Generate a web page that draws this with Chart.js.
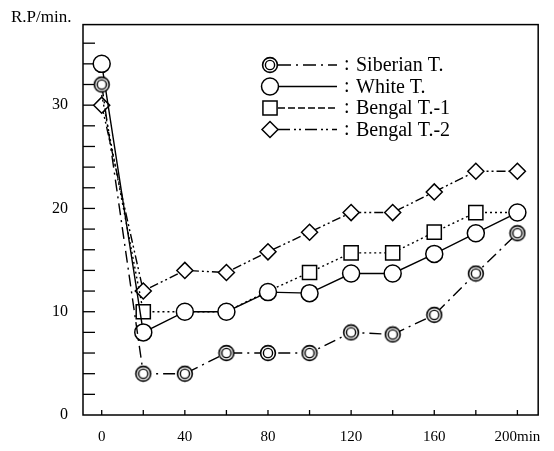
<!DOCTYPE html>
<html>
<head>
<meta charset="utf-8">
<script src="https://cdn.jsdelivr.net/npm/chart.js@4.4.1/dist/chart.umd.min.js"></script>
<style>
  html, body { margin: 0; padding: 0; background: #fff; }
  #wrap { width: 554px; height: 451px; }
</style>
</head>
<body>
<div id="wrap"><canvas id="rp_canvas" width="554" height="451"></canvas></div>
<script>
// minutes after start
const minutes = [0, 20, 40, 60, 80, 100, 120, 140, 160, 180, 200];

// R.P per minute
const siberian = [32, 4, 4, 6, 6, 6, 8, 7.8, 9.7, 13.7, 17.6];
const white    = [34, 8, 10, 10, 11.9, 11.8, 13.7, 13.7, 15.6, 17.6, 19.6];
const bengal1  = [31, 10, 10, 10, 12, 13.8, 15.7, 15.7, 17.7, 19.6, 19.6];
const bengal2  = [30, 12, 14, 13.8, 15.8, 17.7, 19.6, 19.6, 21.6, 23.6, 23.6];

// Bengal T.-1 squares that sit under other markers in the figure (not drawn there)
const bengal1Hidden = [0, 40, 60, 80, 200];

const seriesNames = ['Siberian T.', 'White T.', 'Bengal T.-1', 'Bengal T.-2'];
const xLabelTicks = [0, 40, 80, 120, 160, 200];
const yLabelTicks = [0, 10, 20, 30];

const serif = "'Liberation Serif', 'DejaVu Serif', serif";

// double ring marker for the Siberian series
function ringMarker() {
  const c = document.createElement('canvas');
  c.width = 18; c.height = 18;
  const g = c.getContext('2d');
  g.strokeStyle = '#000';
  g.fillStyle = '#fff';
  g.lineWidth = 1.6;
  g.beginPath(); g.arc(9, 9, 7.4, 0, Math.PI * 2); g.fill(); g.stroke();
  g.lineWidth = 1.4;
  g.beginPath(); g.arc(9, 9, 4.6, 0, Math.PI * 2); g.stroke();
  return c;
}
const ring = ringMarker();

function pts(arr) {
  return minutes.map((m, i) => ({ x: m, y: arr[i] }));
}

function ds(label, arr, style, radius, dash) {
  return {
    label: label,
    data: pts(arr),
    borderColor: '#000',
    borderWidth: 1.4,
    borderDash: dash,
    backgroundColor: '#fff',
    pointStyle: style,
    pointRadius: radius,
    pointBorderColor: '#000',
    pointBackgroundColor: '#fff',
    pointBorderWidth: 1.5,
    tension: 0,
    fill: false
  };
}

const legendDash = [[13, 5, 2, 5], [], [7, 3], [12, 4, 2, 3, 2, 4]];
const legendRadius = [7.5, 8.5, 10, 8];

// frame + inward tick marks
const framePlugin = {
  id: 'frame',
  beforeDatasetsDraw(chart) {
    const { ctx, chartArea: a, scales } = chart;
    ctx.save();
    ctx.strokeStyle = '#000';
    ctx.lineWidth = 1.5;
    ctx.strokeRect(a.left, a.top, a.right - a.left, a.bottom - a.top);
    ctx.lineWidth = 1.3;
    scales.y.ticks.forEach(t => {
      if (t.value <= 0) return;
      const y = scales.y.getPixelForValue(t.value);
      ctx.beginPath(); ctx.moveTo(a.left, y); ctx.lineTo(a.left + 12, y); ctx.stroke();
    });
    scales.x.ticks.forEach(t => {
      const x = scales.x.getPixelForValue(t.value);
      ctx.beginPath(); ctx.moveTo(x, a.bottom); ctx.lineTo(x, a.bottom - 5); ctx.stroke();
    });
    ctx.restore();
  },
  afterDraw(chart) {
    const ctx = chart.ctx;
    ctx.save();
    ctx.fillStyle = '#000';
    ctx.font = '17px ' + serif;
    ctx.textBaseline = 'middle';
    ctx.fillText('R.P/min.', 11, 18);
    ctx.restore();
  }
};

// legend with marker + line sample
const keyPlugin = {
  id: 'key',
  afterDraw(chart) {
    const ctx = chart.ctx;
    ctx.save();
    chart.data.datasets.forEach((d, i) => {
      const y = 65 + i * 21.5;
      ctx.strokeStyle = '#000';
      ctx.lineWidth = 1.5;
      ctx.setLineDash(legendDash[i]);
      ctx.beginPath(); ctx.moveTo(278, y); ctx.lineTo(337, y); ctx.stroke();
      ctx.setLineDash([]);
      ctx.fillStyle = '#fff';
      Chart.helpers.drawPoint(ctx, {
        pointStyle: d.pointStyle, radius: legendRadius[i], rotation: 0, borderWidth: 1.5
      }, 270, y);
      ctx.fillStyle = '#000';
      ctx.font = '20px ' + serif;
      ctx.textBaseline = 'middle';
      ctx.fillText(':', 344, y);
      ctx.fillText(d.label, 356, y + 1);
    });
    ctx.restore();
  }
};

new Chart(document.getElementById('rp_canvas'), {
  type: 'line',
  data: {
    datasets: [
      ds(seriesNames[0], siberian, ring, 7.5, [12, 5, 2, 5]),
      ds(seriesNames[1], white, 'circle', 8.5, []),
      ds(seriesNames[2], bengal1, 'rect', minutes.map(m => bengal1Hidden.includes(m) ? 0 : 10), [2, 3]),
      ds(seriesNames[3], bengal2, 'rectRot', 8, [9, 3, 2, 3, 2, 3])
    ]
  },
  options: {
    responsive: false,
    animation: false,
    devicePixelRatio: 1,
    layout: { padding: { left: 43, right: 15, top: 17, bottom: 0 } },
    plugins: {
      legend: { display: false },
      tooltip: { enabled: false }
    },
    scales: {
      x: {
        type: 'linear',
        min: -9,
        max: 210,
        grid: { display: false, drawTicks: false },
        border: { display: false },
        afterFit: s => { s.height = 36; },
        ticks: {
          stepSize: 20,
          includeBounds: false,
          autoSkip: false,
          maxRotation: 0,
          padding: 13,
          color: '#000',
          font: { family: serif, size: 15 },
          callback: v => xLabelTicks.includes(v) ? (v === 200 ? '200min' : String(v)) : ''
        }
      },
      y: {
        min: 0,
        max: 37.8,
        grid: { display: false, drawTicks: false },
        border: { display: false },
        afterFit: s => { s.width = 40; },
        ticks: {
          stepSize: 2,
          includeBounds: false,
          autoSkip: false,
          padding: 15,
          color: '#000',
          font: { family: serif, size: 16 },
          callback: v => yLabelTicks.includes(v) ? String(v) : ''
        }
      }
    }
  },
  plugins: [framePlugin, keyPlugin]
});
</script>
</body>
</html>
